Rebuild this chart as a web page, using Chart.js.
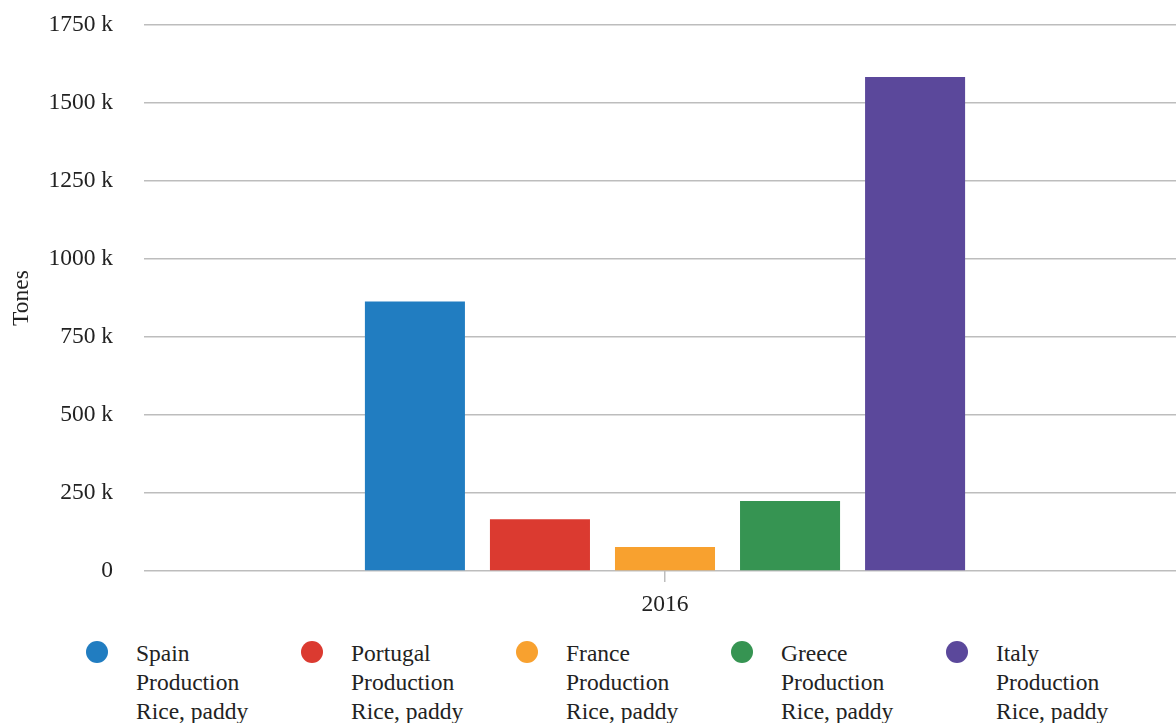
<!DOCTYPE html>
<html>
<head>
<meta charset="utf-8">
<script src="https://cdn.jsdelivr.net/npm/chart.js@4.4.0/dist/chart.umd.min.js"></script>
<style>
  html, body { margin: 0; padding: 0; background: #fff; }
  body { width: 1176px; height: 723px; overflow: hidden; position: relative; font-family: 'Liberation Serif', 'DejaVu Serif', serif; color: #222; }
  .wrap { position: absolute; left: 0; top: -20px; width: 1186px; height: 645px; }
  .legend { position: absolute; left: 86px; top: 639px; display: flex; }
  .legend-item { width: 215px; display: flex; align-items: flex-start; }
  .dot { width: 22px; height: 22px; border-radius: 50%; margin-top: 2px; flex: none; }
  .legend-text { margin-left: 28px; font-size: 23.5px; line-height: 29px; }
</style>
</head>
<body>
<div class="wrap"><canvas id="chart" width="1186" height="645"></canvas></div>
<div class="legend" id="legend"></div>
<script>
const years = ['2016'];
const countries = ['Spain', 'Portugal', 'France', 'Greece', 'Italy'];
const production = [864000, 166000, 77000, 224000, 1584000];
const colors = ['#217dc1', '#db3a30', '#f8a12f', '#369452', '#5b489b'];
const yTicks = [0, 250000, 500000, 750000, 1000000, 1250000, 1500000, 1750000];
const legendLines = ['Production', 'Rice, paddy'];

const font = { family: "'Liberation Serif', 'DejaVu Serif', serif", size: 23.5 };

new Chart(document.getElementById('chart'), {
    type: 'bar',
    data: {
        labels: years,
        datasets: countries.map((c, i) => ({
            label: c,
            data: [production[i]],
            backgroundColor: colors[i],
            categoryPercentage: 0.6,
            barPercentage: 0.8
        }))
    },
    options: {
        responsive: false,
        animation: false,
        layout: { padding: 0 },
        plugins: { legend: { display: false }, tooltip: { enabled: false } },
        scales: {
            x: {
                grid: { display: true, drawOnChartArea: false, offset: false, tickLength: 11, color: '#bdbdbd', lineWidth: 1.5 },
                border: { display: false },
                ticks: { color: '#222', font: font, padding: 9 },
                afterFit: s => { s.height = 54; }
            },
            y: {
                min: 0,
                max: yTicks[yTicks.length - 1],
                afterBuildTicks: s => { s.ticks = yTicks.map(v => ({ value: v })); },
                grid: { color: '#bdbdbd', lineWidth: 1.5, drawTicks: false },
                border: { display: false },
                ticks: {
                    color: '#222',
                    font: font,
                    padding: 31,
                    callback: v => v === 0 ? '0' : (v / 1000) + ' k'
                },
                title: { display: true, text: 'Tones', color: '#222', font: font, padding: { top: 8, bottom: 0 } },
                afterFit: s => { s.width = 144; }
            }
        }
    }
});

const legend = document.getElementById('legend');
countries.forEach((c, i) => {
    const item = document.createElement('div');
    item.className = 'legend-item';
    item.innerHTML = '<span class="dot" style="background:' + colors[i] + '"></span>' +
        '<div class="legend-text">' + [c].concat(legendLines).join('<br>') + '</div>';
    legend.appendChild(item);
});
</script>
</body>
</html>
